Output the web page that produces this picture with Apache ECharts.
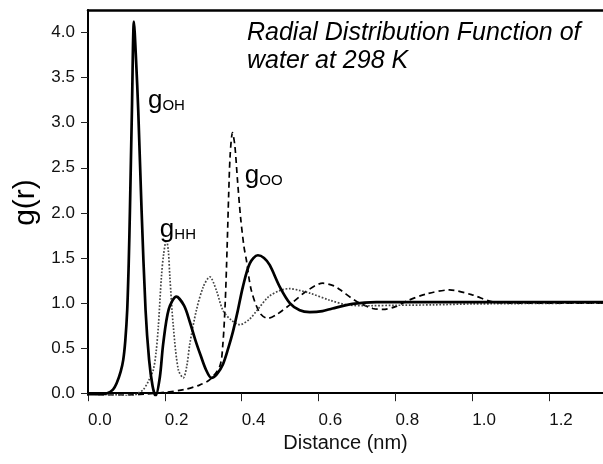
<!DOCTYPE html>
<html>
<head>
<meta charset="utf-8">
<script src="https://cdn.jsdelivr.net/npm/echarts@6/dist/echarts.min.js"></script>
<style>
  html, body { margin: 0; padding: 0; background: #fff; }
  #chart { width: 603px; height: 464px; }
</style>
</head>
<body>
<div id="chart"></div>
<script>
// tick labels
const xTicks = [0, 0.2, 0.4, 0.6, 0.8, 1.0, 1.2]
const yTicks = [0, 0.5, 1.0, 1.5, 2.0, 2.5, 3.0, 3.5, 4.0]

// g_OH (solid)
const ohX = [0, 0.03, 0.05, 0.065, 0.0745, 0.085, 0.0917, 0.097, 0.102, 0.106, 0.1091, 0.1143, 0.1195, 0.125, 0.1307, 0.1394, 0.1498, 0.159, 0.168, 0.176, 0.187, 0.1957, 0.21, 0.23, 0.25, 0.265, 0.28, 0.293, 0.307, 0.321, 0.335, 0.351, 0.365, 0.377, 0.39, 0.403, 0.421, 0.442, 0.458, 0.473, 0.499, 0.525, 0.551, 0.577, 0.61, 0.636, 0.688, 0.75, 0.85, 1.0, 1.34]
const ohY = [-0.01, -0.01, 0.0, 0.04, 0.11, 0.24, 0.37, 0.58, 0.92, 1.45, 2.03, 3.14, 4.12, 3.7, 3.14, 2.03, 0.92, 0.37, 0.08, -0.03, 0.18, 0.55, 0.93, 1.07, 0.97, 0.79, 0.58, 0.42, 0.26, 0.17, 0.21, 0.32, 0.5, 0.68, 0.92, 1.18, 1.44, 1.53, 1.5, 1.42, 1.18, 1.0, 0.92, 0.9, 0.91, 0.94, 0.99, 1.01, 1.01, 1.01, 1.01]

// g_HH (dotted)
const hhX = [0, 0.08, 0.118, 0.13, 0.144, 0.158, 0.17, 0.177, 0.183, 0.191, 0.197, 0.204, 0.209, 0.213, 0.222, 0.235, 0.248, 0.257, 0.265, 0.282, 0.3, 0.317, 0.334, 0.351, 0.373, 0.395, 0.42, 0.44, 0.47, 0.5, 0.525, 0.55, 0.577, 0.63, 0.675, 0.73, 0.8, 0.9, 1.0, 1.34]
const hhY = [-0.01, -0.02, -0.03, 0.0, 0.04, 0.14, 0.26, 0.45, 0.74, 1.29, 1.55, 1.7, 1.58, 1.29, 0.74, 0.26, 0.17, 0.3, 0.55, 0.92, 1.18, 1.29, 1.14, 0.92, 0.81, 0.76, 0.82, 0.92, 1.07, 1.14, 1.16, 1.14, 1.11, 1.03, 0.98, 0.97, 0.975, 0.98, 0.99, 1.0]

// g_OO (dashed)
const ooX = [0, 0.05, 0.1, 0.15, 0.2, 0.25, 0.29, 0.317, 0.343, 0.351, 0.357, 0.362, 0.366, 0.37, 0.376, 0.382, 0.389, 0.397, 0.406, 0.412, 0.425, 0.447, 0.468, 0.49, 0.525, 0.568, 0.611, 0.64, 0.655, 0.698, 0.741, 0.767, 0.8, 0.828, 0.88, 0.94, 1.0, 1.05, 1.1, 1.34]
const ooY = [0.0, -0.02, -0.02, -0.01, 0.01, 0.04, 0.09, 0.15, 0.3, 0.55, 1.0, 1.62, 2.2, 2.65, 2.89, 2.75, 2.36, 1.95, 1.62, 1.48, 1.14, 0.89, 0.83, 0.87, 0.98, 1.13, 1.22, 1.19, 1.15, 1.02, 0.94, 0.93, 0.96, 1.02, 1.1, 1.145, 1.09, 1.015, 1.0, 1.0]

const font = 'Liberation Sans, Arial, sans-serif'

function pairs(xs, ys) {
  return xs.map((x, i) => [x, ys[i]])
}

function curveLabel(sub, x, y) {
  return {
    silent: true,
    symbol: 'circle',
    symbolSize: 0,
    label: {
      show: true,
      position: 'right',
      distance: 0,
      formatter: '{g|g}{s|' + sub + '}',
      rich: {
        g: { fontSize: 26, lineHeight: 27, verticalAlign: 'bottom', color: '#000', fontFamily: font },
        s: { fontSize: 15, lineHeight: 12, verticalAlign: 'bottom', color: '#000', fontFamily: font }
      }
    },
    data: [{ coord: [x, y] }]
  }
}

const chart = echarts.init(document.getElementById('chart'))
chart.setOption({
  animation: false,
  textStyle: { fontFamily: font },
  title: {
    text: 'Radial Distribution Function of\nwater at 298 K',
    left: 247,
    top: 19,
    padding: 0,
    textStyle: {
      fontFamily: font,
      fontStyle: 'italic',
      fontWeight: 'normal',
      fontSize: 25,
      lineHeight: 28,
      color: '#000'
    }
  },
  grid: { left: 88, right: 0, top: 10, bottom: 69 },
  xAxis: [
    {
      type: 'value',
      min: 0,
      max: 1.34,
      name: 'Distance (nm)',
      nameLocation: 'middle',
      nameGap: 37,
      nameTextStyle: { fontSize: 20, color: '#111' },
      axisLine: { lineStyle: { color: '#000', width: 2 } },
      axisTick: { customValues: xTicks, length: 8, lineStyle: { color: '#222', width: 1 } },
      axisLabel: {
        customValues: xTicks,
        formatter: v => v.toFixed(1),
        align: 'left',
        margin: 17,
        fontSize: 17,
        color: '#111'
      },
      splitLine: { show: false }
    },
    {
      type: 'value',
      position: 'top',
      min: 0,
      max: 1.34,
      axisLine: { lineStyle: { color: '#000', width: 2.5 } },
      axisTick: { show: false },
      axisLabel: { show: false },
      splitLine: { show: false }
    }
  ],
  yAxis: {
    type: 'value',
    min: -0.02,
    max: 4.25,
    name: 'g(r)',
    nameLocation: 'middle',
    nameRotate: 90,
    nameGap: 46,
    nameTextStyle: { fontSize: 30, color: '#000' },
    axisLine: { show: true, lineStyle: { color: '#000', width: 2 } },
    axisTick: { show: true, customValues: yTicks, length: 7, lineStyle: { color: '#222', width: 1 } },
    axisLabel: {
      customValues: yTicks,
      formatter: v => v.toFixed(1),
      margin: 13,
      fontSize: 17,
      color: '#111'
    },
    splitLine: { show: false }
  },
  series: [
    {
      name: 'gOO',
      type: 'line',
      data: pairs(ooX, ooY),
      smooth: 0.3,
      symbol: 'none',
      lineStyle: { color: '#000', width: 1.7, type: [6, 4] },
      markPoint: curveLabel('OO', 0.408, 2.42)
    },
    {
      name: 'gHH',
      type: 'line',
      data: pairs(hhX, hhY),
      smooth: 0.3,
      symbol: 'none',
      lineStyle: { color: '#444', width: 1.7, type: [1.7, 1.7] },
      markPoint: curveLabel('HH', 0.187, 1.82)
    },
    {
      name: 'gOH',
      type: 'line',
      data: pairs(ohX, ohY),
      smooth: 0.3,
      symbol: 'none',
      lineStyle: { color: '#000', width: 2.7 },
      markPoint: curveLabel('OH', 0.156, 3.25)
    }
  ]
})
</script>
</body>
</html>
